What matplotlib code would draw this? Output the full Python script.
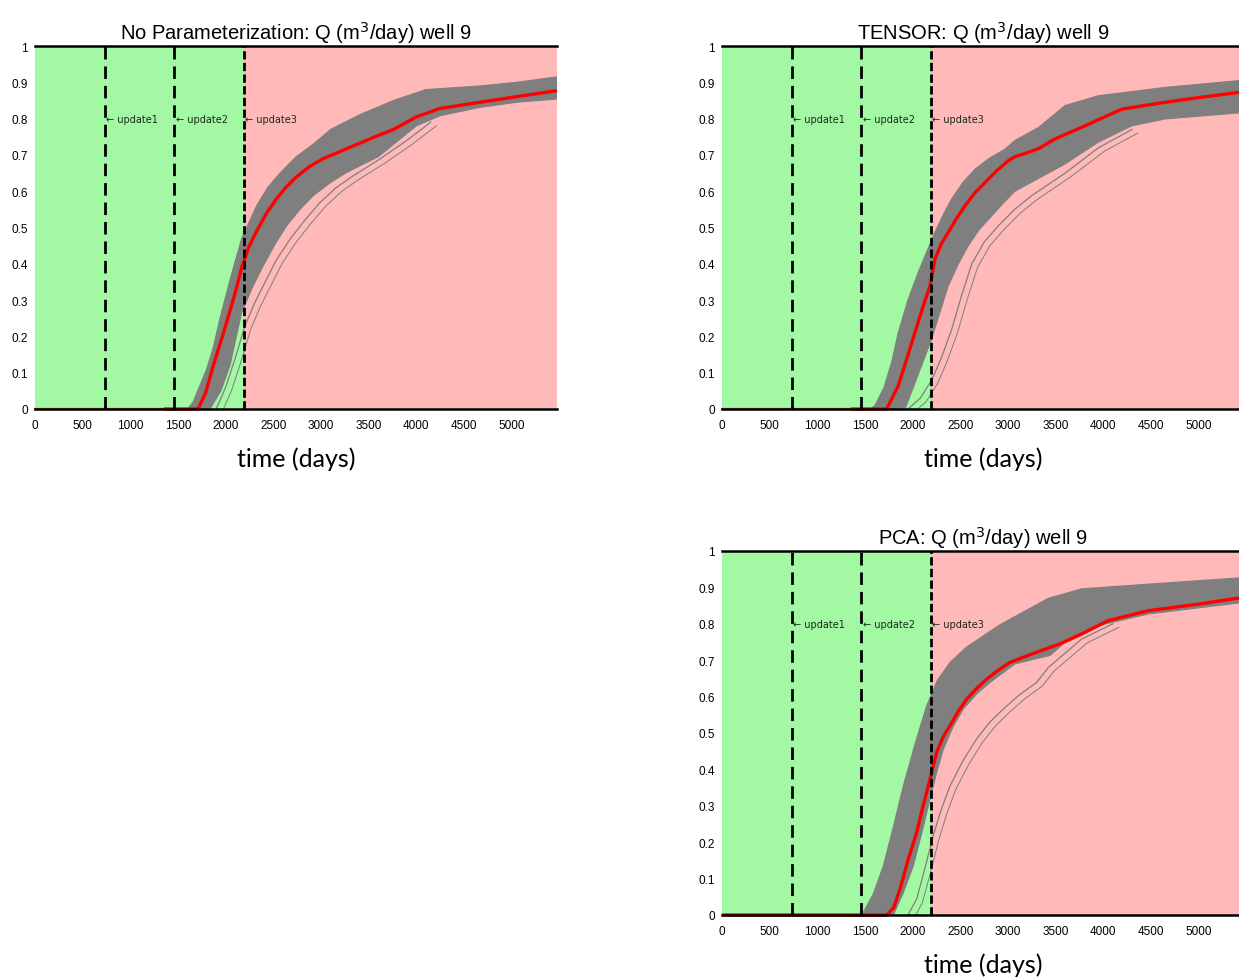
import numpy as np
import matplotlib
matplotlib.use("Agg")
import matplotlib.pyplot as plt

# ---------------- data ----------------
titles = ["No Parameterization: Q (m$^3$/day) well 9",
          "TENSOR: Q (m$^3$/day) well 9",
          "PCA: Q (m$^3$/day) well 9"]
update_days = [730, 1460, 2190]
update_labels = ["update1", "update2", "update3"]
x_ticks = [0, 500, 1000, 1500, 2000, 2500, 3000, 3500, 4000, 4500, 5000]
y_ticks = [0, 0.1, 0.2, 0.3, 0.4, 0.5, 0.6, 0.7, 0.8, 0.9, 1.0]
y_tick_labels = ["0", "0.1", "0.2", "0.3", "0.4", "0.5", "0.6", "0.7", "0.8", "0.9", "1"]
t_end = 5475

# No parameterization
truth_np_days = [1350, 1710, 1790, 1870, 1960, 2045, 2110, 2168, 2240, 2325, 2430, 2535, 2640, 2745, 2880, 3025, 3180, 3340, 3585, 3760, 4003, 4248, 4668, 5017, 5475]
truth_np = [0, 0, 0.045, 0.12, 0.195, 0.27, 0.33, 0.39, 0.445, 0.49, 0.54, 0.58, 0.613, 0.64, 0.668, 0.69, 0.707, 0.725, 0.752, 0.77, 0.805, 0.828, 0.845, 0.859, 0.877]
upper_np_days = [1600, 1660, 1800, 1870, 1940, 2060, 2168, 2325, 2440, 2570, 2740, 2920, 3100, 3400, 3760, 4100, 4670, 5050, 5475]
upper_np = [0, 0.02, 0.11, 0.17, 0.25, 0.37, 0.47, 0.56, 0.61, 0.65, 0.695, 0.73, 0.77, 0.81, 0.85, 0.88, 0.89, 0.90, 0.915]
lower_np_days = [1760, 1835, 1950, 2045, 2168, 2280, 2395, 2520, 2640, 2780, 2920, 3090, 3270, 3600, 4000, 4250, 4670, 5050, 5475]
lower_np = [0, 0, 0.05, 0.12, 0.266, 0.335, 0.395, 0.455, 0.505, 0.55, 0.588, 0.622, 0.652, 0.695, 0.78, 0.808, 0.831, 0.845, 0.854]
outl_np_days = [1900, 2000, 2100, 2203, 2300, 2395, 2530, 2675, 2830, 2990, 3160, 3340, 3620, 3900, 4150]
outl_np = [0, 0.06, 0.14, 0.23, 0.29, 0.34, 0.41, 0.468, 0.52, 0.569, 0.61, 0.643, 0.689, 0.74, 0.79]

# TENSOR
truth_t_days = [1350, 1727, 1849, 1940, 2024, 2100, 2182, 2234, 2300, 2374, 2460, 2549, 2650, 2759, 2880, 3003, 3073, 3190, 3318, 3493, 3807, 4192, 4647, 5032, 5475]
truth_t = [0, 0, 0.064, 0.14, 0.211, 0.275, 0.34, 0.413, 0.455, 0.487, 0.525, 0.56, 0.595, 0.624, 0.656, 0.684, 0.695, 0.705, 0.717, 0.744, 0.78, 0.826, 0.845, 0.859, 0.874]
upper_t_days = [1560, 1605, 1700, 1780, 1849, 1950, 2059, 2150, 2234, 2320, 2409, 2530, 2654, 2800, 2969, 3073, 3318, 3598, 3947, 4647, 5475]
upper_t = [0, 0.01, 0.06, 0.13, 0.211, 0.3, 0.377, 0.435, 0.487, 0.535, 0.579, 0.625, 0.661, 0.69, 0.716, 0.74, 0.775, 0.836, 0.863, 0.886, 0.906]
lower_t_days = [1850, 1919, 2000, 2094, 2199, 2290, 2374, 2480, 2584, 2700, 2829, 2950, 3073, 3388, 3598, 3947, 4297, 4647, 5475]
lower_t = [0, 0, 0.055, 0.12, 0.193, 0.27, 0.34, 0.4, 0.45, 0.495, 0.532, 0.567, 0.6, 0.645, 0.675, 0.735, 0.78, 0.799, 0.817]
outl_t_days = [1950, 2080, 2200, 2300, 2410, 2510, 2620, 2750, 2900, 3070, 3250, 3600, 3950, 4300]
outl_t = [0, 0.03, 0.08, 0.14, 0.22, 0.31, 0.40, 0.46, 0.505, 0.55, 0.588, 0.65, 0.72, 0.77]

# PCA
truth_p_days = [0, 1727, 1800, 1867, 1950, 2042, 2100, 2164, 2252, 2320, 2392, 2480, 2566, 2670, 2776, 2900, 3020, 3300, 3545, 3772, 4052, 4472, 4996, 5475]
truth_p = [0, 0, 0.02, 0.071, 0.15, 0.227, 0.29, 0.355, 0.447, 0.49, 0.52, 0.56, 0.593, 0.622, 0.648, 0.673, 0.694, 0.722, 0.745, 0.772, 0.809, 0.836, 0.854, 0.873]
upper_p_days = [1440, 1482, 1590, 1692, 1800, 1902, 2030, 2147, 2260, 2392, 2560, 2741, 2900, 3073, 3423, 3772, 4472, 5475]
upper_p = [0, 0.007, 0.06, 0.135, 0.245, 0.355, 0.475, 0.575, 0.645, 0.694, 0.735, 0.767, 0.795, 0.82, 0.87, 0.896, 0.909, 0.927]
lower_p_days = [1760, 1797, 1900, 2007, 2100, 2182, 2250, 2322, 2420, 2531, 2670, 2811, 3073, 3440, 3598, 3947, 4472, 5475]
lower_p = [0, 0, 0.06, 0.135, 0.23, 0.319, 0.39, 0.456, 0.515, 0.566, 0.607, 0.639, 0.69, 0.713, 0.749, 0.795, 0.827, 0.859]
outl_p_days = [1950, 2042, 2130, 2217, 2300, 2392, 2530, 2671, 2810, 2951, 3120, 3300, 3423, 3772, 4100]
outl_p = [0, 0.044, 0.13, 0.22, 0.29, 0.355, 0.425, 0.484, 0.53, 0.566, 0.605, 0.639, 0.68, 0.758, 0.80]

panels = [
    dict(title=titles[0], truth=(truth_np_days, truth_np), up=(upper_np_days, upper_np),
         lo=(lower_np_days, lower_np), out=(outl_np_days, outl_np), base=True),
    dict(title=titles[1], truth=(truth_t_days, truth_t), up=(upper_t_days, upper_t),
         lo=(lower_t_days, lower_t), out=(outl_t_days, outl_t), base=True),
    dict(title=titles[2], truth=(truth_p_days, truth_p), up=(upper_p_days, upper_p),
         lo=(lower_p_days, lower_p), out=(outl_p_days, outl_p), base=False),
]

# ---------------- style ----------------
W, H = 1239, 978
narrow = ['Liberation Sans', 'DejaVu Sans']
GREEN = '#a3f8a3'
PINK = '#ffb9b9'
GRAY = '#7f7f7f'

fig = plt.figure(figsize=(W / 100, H / 100), dpi=100)
fig.patch.set_facecolor('white')

def frac(x0, y_top, w, h):
    return [x0 / W, 1 - (y_top + h) / H, w / W, h / H]

positions = [frac(35, 47, 522, 363), frac(722, 47, 522, 363), frac(722, 552, 522, 364)]

for pos, p in zip(positions, panels):
    ax = fig.add_axes(pos)
    ax.set_xlim(0, t_end)
    ax.set_ylim(0, 1)
    ax.axvspan(0, update_days[2], color=GREEN, lw=0, zorder=0)
    ax.axvspan(update_days[2], t_end, color=PINK, lw=0, zorder=0)

    # ensemble band
    ux, uy = p['up']
    lx, ly = p['lo']
    px = np.concatenate([ux, lx[::-1]])
    py = np.concatenate([uy, ly[::-1]])
    ax.fill(px, py, color=GRAY, lw=0.8, ec=GRAY, zorder=2)
    ox, oy = p['out']
    ax.plot(ox, oy, color=GRAY, lw=0.9, zorder=2)
    ax.plot(np.array(ox) + 60, np.array(oy) - 0.01, color=GRAY, lw=0.7, zorder=2)

    # truth
    if p['base']:
        ax.plot([0, p['truth'][0][0]], [0, 0], color='#c0501f', lw=1.6, zorder=3, clip_on=False)
    ax.plot(p['truth'][0], p['truth'][1], color='#ff0000', lw=2.4, zorder=4, clip_on=False,
            solid_capstyle='butt', solid_joinstyle='round')

    # update lines
    for i, (d, lab) in enumerate(zip(update_days, update_labels)):
        ls = (0, (4.5, 2.5)) if i < 2 else (0, (3, 1.2))
        ax.axvline(d, color='black', lw=2.0, ls=ls, zorder=5)
        ax.text(d + 15, 0.8, "\u2190 " + lab, fontsize=7, va='center', ha='left',
                color='#1a2a1a', family=['DejaVu Sans'], zorder=6)

    for s in ['left', 'right']:
        ax.spines[s].set_visible(False)
    for s in ['top', 'bottom']:
        ax.spines[s].set_linewidth(1.8)
        ax.spines[s].set_color('black')
        ax.spines[s].set_zorder(7)

    ax.set_xticks(x_ticks)
    ax.set_xticklabels([str(v) for v in x_ticks], family=narrow, fontsize=8.5)
    ax.set_yticks(y_ticks)
    ax.set_yticklabels(y_tick_labels, family=narrow, fontsize=8.5)
    ax.tick_params(length=0, pad=5)
    ax.tick_params(axis='x', pad=7)

    ax.set_title(p['title'], family=narrow, fontsize=14.5, pad=5)
    ax.set_xlabel("time (days)", family=['Lato', 'DejaVu Sans'], fontsize=18, labelpad=11)

fig.savefig("out.png", dpi=100)
